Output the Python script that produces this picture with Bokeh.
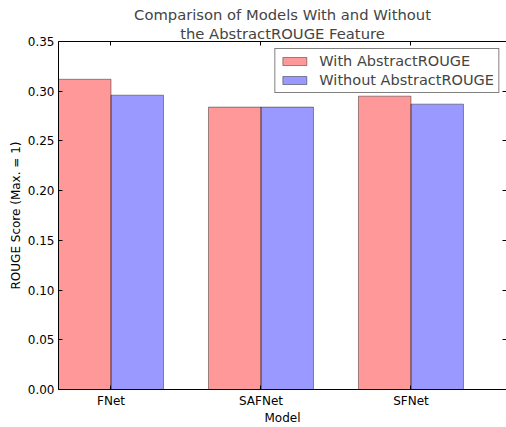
import numpy as np
from bokeh.plotting import figure
from bokeh.models import (Range1d, FixedTicker, LinearAxis, Title, Legend, LegendItem,
                          NumeralTickFormatter, CustomLabelingPolicy)
from bokeh.embed import file_html
from bokeh.resources import INLINE

models = ["FNet", "SAFNet", "SFNet"]
with_feature = [0.312, 0.284, 0.295]
without_feature = [0.296, 0.284, 0.287]
y_ticks = [0.00, 0.05, 0.10, 0.15, 0.20, 0.25, 0.30, 0.35]

FONT = "DejaVu Sans"
bar_w = 0.35
idx = np.arange(len(models))

p = figure(width=506, height=427, output_backend="svg", toolbar_location=None,
           x_range=Range1d(0, 2.987), y_range=Range1d(0, 0.35),
           min_border_left=58, min_border_right=0, min_border_top=41, min_border_bottom=0)
p.title = None
p.grid.visible = False
p.outline_line_color = None
p.background_fill_color = "white"
p.border_fill_color = "white"

r1 = p.vbar(x=idx + bar_w / 2, top=with_feature, width=bar_w, bottom=0,
            fill_color="red", fill_alpha=0.4, line_color="black", line_alpha=0.4)
r2 = p.vbar(x=idx + 1.5 * bar_w, top=without_feature, width=bar_w, bottom=0,
            fill_color="blue", fill_alpha=0.4, line_color="black", line_alpha=0.4)

xt = FixedTicker(ticks=list(idx + bar_w))
yt = FixedTicker(ticks=y_ticks)

p.xaxis[0].ticker = xt
p.xaxis[0].major_label_overrides = {float(t): m for t, m in zip(idx + bar_w, models)}
p.xaxis[0].axis_label = "Model"
p.yaxis[0].ticker = yt
p.yaxis[0].formatter = NumeralTickFormatter(format="0.00")
p.yaxis[0].axis_label = "ROUGE Score (Max. = 1)"

for ax in list(p.xaxis) + list(p.yaxis):
    ax.major_tick_in = 4
    ax.major_tick_out = 0
    ax.minor_tick_in = 0
    ax.minor_tick_out = 0
    ax.axis_line_color = "black"
    ax.major_tick_line_color = "black"
    ax.major_label_text_font = FONT
    ax.major_label_text_font_size = "12px"
    ax.major_label_text_color = "black"
    ax.axis_label_text_font = FONT
    ax.axis_label_text_font_size = "12px"
    ax.axis_label_text_font_style = "normal"
    ax.axis_label_text_color = "black"
p.xaxis[0].major_label_standoff = 4
p.xaxis[0].axis_label_standoff = 0
p.yaxis[0].major_label_standoff = 4
p.yaxis[0].axis_label_standoff = 2

hide = CustomLabelingPolicy(code="""
try { const out = indices.clone(); for (let i = 0; i < out.size; i++) out.unset(i); return out; }
catch (e) { return indices; }
""")
top_ax = LinearAxis(ticker=xt, major_tick_in=4, major_tick_out=0, minor_tick_in=0,
                    minor_tick_out=0, axis_line_color="black", major_label_standoff=0,
                    major_label_policy=hide, major_label_text_font_size="0px")
right_ax = LinearAxis(ticker=yt, major_tick_in=4, major_tick_out=0, minor_tick_in=0,
                      minor_tick_out=0, axis_line_color=None, major_label_standoff=0,
                      major_label_policy=hide, major_label_text_font_size="0px")
p.add_layout(top_ax, "above")
p.add_layout(right_ax, "right")

p.add_layout(Title(text="the AbstractROUGE Feature", align="center", text_font=FONT,
                   text_font_size="14.75px", text_font_style="normal", standoff=0), "above")
p.add_layout(Title(text="Comparison of Models With and Without", align="center", text_font=FONT,
                   text_font_size="14.75px", text_font_style="normal", standoff=-1), "above")

legend = Legend(items=[LegendItem(label="With AbstractROUGE", renderers=[r1]),
                       LegendItem(label="Without AbstractROUGE", renderers=[r2])],
                location="top_right", label_text_font=FONT, label_text_font_size="14.5px",
                border_line_color="black", border_line_width=1, margin=7, padding=4,
                spacing=3, glyph_width=30, glyph_height=10, label_standoff=10,
                background_fill_alpha=1)
p.add_layout(legend)

open("out.html", "w").write(file_html(p, INLINE))
